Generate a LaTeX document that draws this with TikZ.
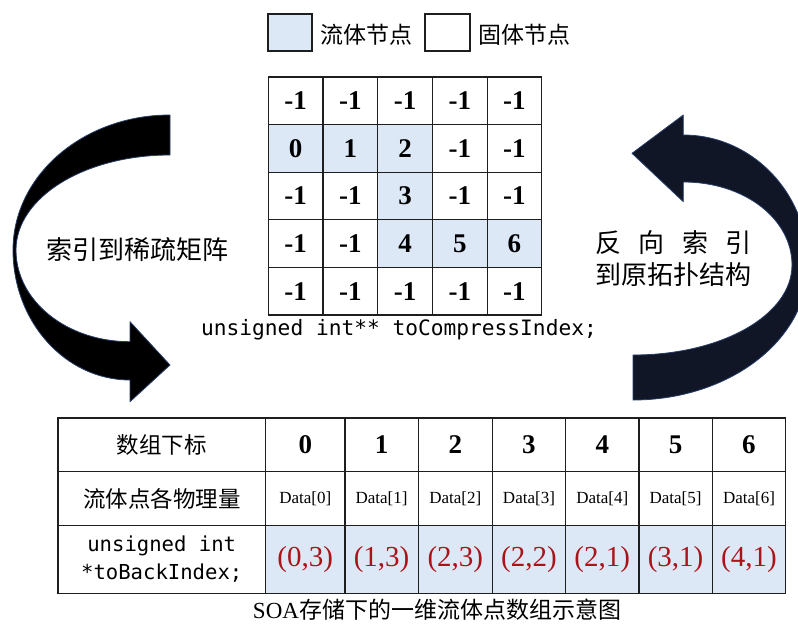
\documentclass[tikz,border=0pt]{standalone}
\usepackage{fontspec}
\setmainfont{Liberation Serif}
\setmonofont{DejaVu Sans Mono}
\newfontfamily\cjk{Noto Sans CJK SC}
\definecolor{fluid}{RGB}{221,232,247}
\definecolor{idxred}{RGB}{170,20,24}
\definecolor{navy}{RGB}{16,22,38}
\definecolor{edgeblue}{RGB}{40,62,105}
\definecolor{linecol}{RGB}{30,30,30}
\begin{document}
\begin{tikzpicture}[x=1pt,y=-1pt,
  gcell/.style={draw=linecol,line width=1.2pt,minimum width=54.7pt,minimum height=47.6pt,inner sep=0pt,
     font=\fontsize{27}{27}\selectfont\bfseries},
  tcell/.style={draw=linecol,line width=1.2pt,inner sep=0pt,anchor=north west},
  cjktext/.style={font=\fontsize{#1}{#1}\selectfont\cjk},
  bignum/.style={font=\fontsize{27}{27}\selectfont\bfseries},
  datatext/.style={font=\fontsize{17}{17}\selectfont},
  redtext/.style={font=\fontsize{29}{29}\selectfont,text=idxred},
  codetext/.style={font=\fontsize{#1}{28}\selectfont\ttfamily},
  bigarrow/.style={draw=edgeblue,line width=0.8pt,line join=round}]
\useasboundingbox (0,0) rectangle (798,624);

% ---------- curved arrows ----------
\begin{scope}
\clip (0,0) rectangle (798,624);
% left arrow
\draw[bigarrow,fill=black] (170,115)
  .. controls (83.3,115) and (13,175.4) .. (13,250)
  .. controls (13,321.8) and (65.4,380) .. (130,380)
  -- (130,401.7) -- (170,365) -- (130,321.7) -- (130,341.7)
  .. controls (66.5,341.7) and (16,300.8) .. (16,250)
  .. controls (16,197.5) and (84.4,155) .. (170,155) -- cycle;
% right arrow
\draw[bigarrow,fill=navy] (633,355)
  .. controls (722.5,355) and (792,314.7) .. (792,265)
  .. controls (792,219.2) and (744.9,182) .. (683.3,182)
  -- (683.3,201.7) -- (632,153.3) -- (683.3,115) -- (683.3,135)
  .. controls (752,135) and (808,193.2) .. (808,265)
  .. controls (808,339.6) and (729.7,400) .. (633,400) -- cycle;
\end{scope}

% ---------- legend ----------
\node[draw=linecol,line width=1.2pt,fill=fluid,minimum width=44pt,minimum height=37pt,inner sep=0pt] (legF) at (290,32.5) {};
\node[cjktext=23,anchor=west,inner sep=0pt] (legFt) at (320,35) {流体节点};
\node[draw=linecol,line width=1.2pt,fill=white,minimum width=45pt,minimum height=37pt,inner sep=0pt] (legS) at (447.5,32.5) {};
\node[cjktext=23,anchor=west,inner sep=0pt] (legSt) at (478,35) {固体节点};

% ---------- sparse matrix ----------
\foreach \r/\row in {
  0/{0/-1/white,1/-1/white,2/-1/white,3/-1/white,4/-1/white},
  1/{0/0/fluid,1/1/fluid,2/2/fluid,3/-1/white,4/-1/white},
  2/{0/-1/white,1/-1/white,2/3/fluid,3/-1/white,4/-1/white},
  3/{0/-1/white,1/-1/white,2/4/fluid,3/5/fluid,4/6/fluid},
  4/{0/-1/white,1/-1/white,2/-1/white,3/-1/white,4/-1/white}}{
  \foreach \c/\v/\f in \row {
    \node[gcell,fill=\f] (g-\r-\c) at ({268.3+54.7*(\c+0.5)},{77+47.6*(\r+0.5)}) {\v};
  }
}
\node[codetext=21.2,inner sep=0pt] (compress) at (399,330) {unsigned int** toCompressIndex;};

% ---------- labels beside arrows ----------
\node[cjktext=26,inner sep=0pt] (lblL) at (137.5,250) {索引到稀疏矩阵};
\node[cjktext=26,inner sep=0pt] (lblR1) at (673.5,243) {\makebox[156pt][s]{反\hfill 向\hfill 索\hfill 引}};
\node[cjktext=26,inner sep=0pt] (lblR2) at (673.5,275) {到原拓扑结构};

% ---------- SOA table ----------
% first column
\node[tcell,minimum width=207.7pt,minimum height=53.4pt] (h0) at (57.3,417.3) {};
\node[cjktext=22.5,inner sep=0pt] (h0t) at (h0.center) {数组下标};
\node[tcell,minimum width=207.7pt,minimum height=54.3pt] (h1) at (57.3,470.7) {};
\node[cjktext=22.5,inner sep=0pt] (h1t) at (h1.center) {流体点各物理量};
\node[tcell,minimum width=207.7pt,minimum height=67.7pt] (h2) at (57.3,525) {};
\node[codetext=20.6,inner sep=0pt,align=center] (h2t) at (h2.center) {unsigned int\\*toBackIndex;};
% data columns
\foreach \i/\xl/\w/\pa/\pb in {0/265/79.3/0/3,1/344.3/73.4/1/3,2/417.7/74/2/3,3/491.7/73.3/2/2,
                          4/565/73.3/2/1,5/638.3/73.4/3/1,6/711.7/73.3/4/1}{
  \node[tcell,minimum width=\w pt,minimum height=53.4pt] (n\i) at (\xl,417.3) {};
  \node[bignum,inner sep=0pt] (n\i t) at (n\i.center) {\i};
  \node[tcell,minimum width=\w pt,minimum height=54.3pt] (d\i) at (\xl,470.7) {};
  \node[datatext,inner sep=0pt] (d\i t) at (d\i.center) {Data[\i]};
  \node[tcell,fill=fluid,minimum width=\w pt,minimum height=67.7pt] (b\i) at (\xl,525) {};
  \node[redtext,inner sep=0pt] (b\i t) at (b\i.center) {(\pa,\pb)};
}
\node[inner sep=0pt,font=\fontsize{23}{23}\selectfont] (caption) at (437,610) {SOA{\cjk 存储下的一维流体点数组示意图}};
\end{tikzpicture}
\end{document}
